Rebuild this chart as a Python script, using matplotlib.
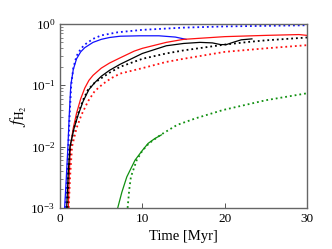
import matplotlib
matplotlib.use("Agg")
import matplotlib.pyplot as plt
from matplotlib.ticker import LogLocator, NullFormatter

plt.rcParams['font.family'] = ['Liberation Serif', 'DejaVu Serif']
plt.rcParams['mathtext.fontset'] = 'stix'

# H2 fraction vs time
blue_t = [0.55, 0.75, 0.95, 1.1, 1.3, 1.6, 2.0, 2.5, 3.0, 4.0, 5.0, 6.0, 7.3, 9.7, 12.0, 14.0, 15.3]
blue_f = [1e-3, 3e-3, 1e-2, 0.03, 0.1, 0.18, 0.27, 0.35, 0.41, 0.50, 0.56, 0.60, 0.63, 0.64, 0.64, 0.61, 0.56]

blue_dot_t = [0.65, 0.85, 1.0, 1.15, 1.35, 1.6, 2.0, 2.5, 3.0, 4.0, 5.0, 7.0, 10.0, 15.0, 20.0, 25.0, 30.0]
blue_dot_f = [1e-3, 3e-3, 1e-2, 0.03, 0.1, 0.19, 0.30, 0.39, 0.46, 0.57, 0.65, 0.73, 0.80, 0.87, 0.91, 0.93, 0.95]

red_t = [1.0, 1.1, 1.25, 1.6, 2.0, 2.5, 3.0, 3.5, 4.0, 5.0, 6.0, 7.3, 9.0, 10.0, 12.9, 15.0, 20.0, 25.0, 29.0, 30.0]
red_f = [1e-3, 3e-3, 0.01, 0.02, 0.035, 0.06, 0.09, 0.12, 0.145, 0.19, 0.23, 0.28, 0.36, 0.40, 0.50, 0.56, 0.62, 0.65, 0.67, 0.65]

red_dot_t = [1.05, 1.2, 1.45, 2.0, 2.6, 3.4, 4.2, 5.2, 6.2, 7.3, 10.0, 12.9, 15.0, 20.0, 25.0, 30.0]
red_dot_f = [1e-3, 3e-3, 0.01, 0.02, 0.033, 0.055, 0.08, 0.105, 0.13, 0.155, 0.19, 0.24, 0.27, 0.35, 0.40, 0.45]

black_t = [0.8, 1.0, 1.2, 1.7, 2.2, 2.8, 3.5, 4.2, 5.0, 6.0, 7.3, 10.0, 12.9, 15.0, 17.0, 18.5, 19.5, 20.2, 21.0, 22.0, 23.3]
black_f = [1e-3, 4e-3, 0.01, 0.02, 0.033, 0.055, 0.085, 0.11, 0.14, 0.175, 0.22, 0.33, 0.44, 0.48, 0.50, 0.49, 0.46, 0.46, 0.50, 0.55, 0.57]

black_dot_t = [0.9, 1.05, 1.25, 1.7, 2.2, 2.8, 3.4, 4.2, 5.0, 6.0, 7.3, 10.0, 12.9, 15.0, 20.0, 23.0, 25.0, 30.0]
black_dot_f = [1e-3, 4e-3, 0.01, 0.02, 0.035, 0.058, 0.085, 0.11, 0.13, 0.16, 0.20, 0.27, 0.33, 0.37, 0.46, 0.51, 0.54, 0.60]

green_t = [7.0, 7.5, 8.1, 9.1, 10.0, 10.7, 11.5, 12.3]
green_f = [1e-3, 1.8e-3, 3.2e-3, 6e-3, 8.7e-3, 0.0113, 0.0135, 0.0155]

green_dot_t = [8.2, 8.4, 8.6, 9.3, 10.0, 10.8, 12.2, 14.2, 16.5, 19.8, 25.0, 30.0]
green_dot_f = [1e-3, 2e-3, 3.2e-3, 6e-3, 8.6e-3, 0.0113, 0.0155, 0.0225, 0.029, 0.0395, 0.057, 0.074]

fig = plt.figure(figsize=(3.32, 2.49), dpi=100)
ax = fig.add_axes([0.181, 0.165, 0.744, 0.739])

ax.plot(blue_t, blue_f, color='#1010ff', lw=0.9)
ax.plot(blue_dot_t, blue_dot_f, color='#1010ff', lw=1.3, ls=':')
ax.plot(red_t, red_f, color='#ff1010', lw=0.9)
ax.plot(red_dot_t, red_dot_f, color='#ff1010', lw=1.3, ls=':')
ax.plot(black_t, black_f, color='black', lw=0.9)
ax.plot(black_dot_t, black_dot_f, color='black', lw=1.3, ls=':')
ax.plot(green_t, green_f, color='#109010', lw=0.9)
ax.plot(green_dot_t, green_dot_f, color='#109010', lw=1.3, ls=':')

ax.set_yscale('log')
ax.set_xlim(0, 30)
ax.set_ylim(1e-3, 1)
ax.set_xticks([0, 10, 20, 30])
ax.yaxis.set_minor_locator(LogLocator(base=10, subs=range(2, 10)))
ax.yaxis.set_minor_formatter(NullFormatter())
ax.tick_params(which='both', direction='in', labelsize=9.5, color='#555555')
ax.tick_params(which='major', length=3.5, width=0.7)
ax.tick_params(which='minor', length=2, width=0.5)
for s in ax.spines.values():
    s.set_color('#666666')
    s.set_linewidth(1.0)

ax.set_xlabel('Time [Myr]', fontsize=10.5)
ax.set_ylabel(r'$f_{\rm H_2}$', fontsize=12, labelpad=1)

fig.savefig('out.png', dpi=100)
